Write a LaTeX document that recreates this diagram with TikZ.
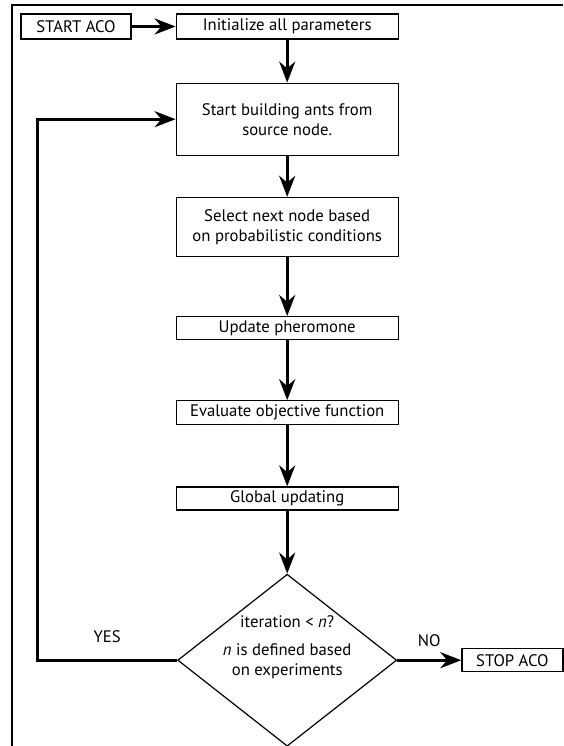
\documentclass[tikz,border=0pt]{standalone}
\usepackage{fontspec}
\setmainfont{PT Sans}
\usetikzlibrary{arrows.meta, shapes.geometric, positioning}

\begin{document}
\begin{tikzpicture}[x=1pt, y=-1pt, >={Stealth[length=21pt,width=16pt]},
 font=\fontsize{16.7}{20}\selectfont]
 \tikzstyle{block} = [rectangle, draw, line width=1.2pt, minimum width=222pt, align=center, inner sep=2pt]
 \tikzstyle{flow} = [->, line width=3pt]
 \useasboundingbox (0,0) rectangle (563,746);
 % outer frame, only top and left edges are visible
 \draw[line width=2pt] (12,746) -- (12,5) -- (563,5);
   \node[block, minimum width=110pt, minimum height=25pt] (start) at (76,26.5) {START ACO};
   \node[block, minimum height=25pt] (init) [right=44pt of start] {Initialize all parameters};
   \node[block, minimum height=72pt] (build) [below=43pt of init] {Start building ants from\\source node.};
   \node[block, minimum height=59pt] (select) [below=41pt of build] {Select next node based\\on probabilistic conditions};
   \node[block, minimum height=23pt] (update) [below=59pt of select] {Update pheromone};
   \node[block, minimum height=24pt] (eval) [below=60pt of update] {Evaluate objective function};
   \node[block, minimum height=23pt] (global) [below=61pt of eval] {Global updating};
   \node[diamond, draw, line width=1.2pt, aspect=1.27, inner xsep=-25pt, inner ysep=-25pt, minimum width=219pt, minimum height=172pt, align=center] (dec) [below=63pt of global] {iteration < \textit{n}?\\[8pt]\textit{n} is defined based\\on experiments\\[10pt]\mbox{}};
   \node[block, minimum width=101pt, minimum height=23pt] (stop) [right=64pt of dec] {STOP ACO};

 \path[flow]
	(start) edge (init)
	(init) edge (build)
	(build) edge (select)
	(select) edge (update)
	(update) edge (eval)
	(eval) edge (global)
	(global) edge (dec)
	(dec) edge node[above=9pt] {NO} (stop);
 % loop back to the ant building step
 \draw[flow] (dec.west) -- node[above=13pt] {YES} ++(-140pt,0) |- (build.west);
\end{tikzpicture}
\end{document}
